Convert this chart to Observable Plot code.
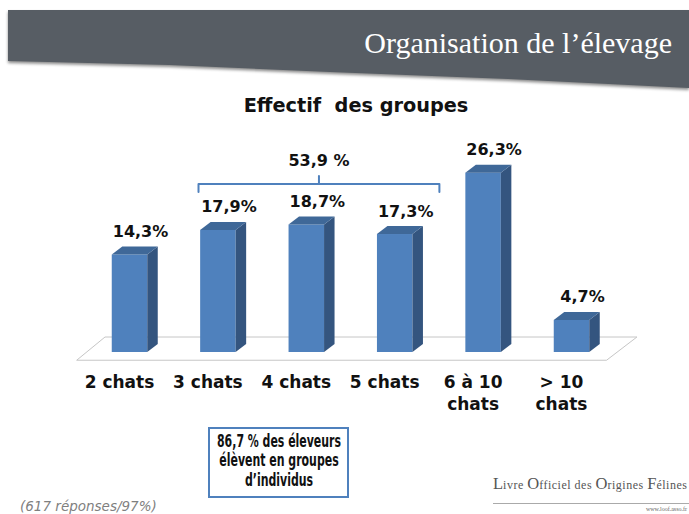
<!DOCTYPE html>
<html><head><meta charset="utf-8">
<script src="https://cdn.jsdelivr.net/npm/d3@7"></script>
<script src="https://cdn.jsdelivr.net/npm/@observablehq/plot@0.6"></script>
<style>
html,body{margin:0;padding:0;background:#fff;}
#page{position:relative;width:689px;height:514px;overflow:hidden;font-family:"DejaVu Sans",sans-serif;}
#chart{position:absolute;left:0;top:0;z-index:1;}
#bannerWrap{position:absolute;left:8px;top:10px;width:681px;height:82px;filter:drop-shadow(0 2px 1.5px rgba(0,0,0,0.45));z-index:2;}
#banner{width:100%;height:100%;background:#575d64;clip-path:polygon(0 0,100% 0,100% 78px,500px 69px,322px 62px,161px 55px,0 51px);}
#bannerTitle{position:absolute;right:17px;top:28px;font-family:"Liberation Serif",serif;font-size:30px;line-height:30px;color:#fff;white-space:pre;z-index:3;}
#title{position:absolute;left:356px;top:96px;transform:translateX(-50%);font-weight:bold;font-size:19.3px;line-height:19px;color:#111;white-space:pre;z-index:3;}
#box{position:absolute;left:208px;top:427px;width:137px;height:67px;border:2px solid #4f81bd;z-index:3;}
#boxText{position:absolute;left:278.5px;top:432px;font-family:"DejaVu Sans",sans-serif;font-stretch:condensed;font-weight:bold;font-size:17px;line-height:19.3px;color:#111;z-index:4;text-align:center;white-space:nowrap;transform-origin:0 0;}
#foot{position:absolute;left:20px;top:499.5px;font-style:italic;font-size:13.5px;line-height:13.5px;color:#7f7f7f;white-space:pre;z-index:3;}
#logo{position:absolute;left:493px;top:476px;font-family:"Liberation Serif",serif;font-size:12px;line-height:15px;color:#555;white-space:pre;letter-spacing:0.5px;z-index:3;}
#logo b{font-weight:normal;font-size:16.5px;letter-spacing:0;}
#logoLine{position:absolute;left:493px;top:503px;width:196px;height:1px;background:#aaa;z-index:3;}
#logoUrl{position:absolute;right:2px;top:506px;font-family:"Liberation Serif",serif;font-size:6px;line-height:6px;color:#666;z-index:3;}
</style>
</head><body>
<div id="page">
  <div id="bannerWrap"><div id="banner"></div></div>
  <div id="bannerTitle">Organisation de l’élevage</div>
  <div id="title">Effectif  des groupes</div>
  <div id="box"></div>
  <div id="boxText">86,7 % des éleveurs<br>élèvent en groupes<br>d’individus</div>
  <div id="foot">(617 réponses/97%)</div>
  <div id="logo"><b>L</b>ivre <b>O</b>fficiel des <b>O</b>rigines <b>F</b>élines</div>
  <div id="logoLine"></div>
  <div id="logoUrl">www.loof.asso.fr</div>
  <div id="chart"></div>
</div>
<script>
// ---- data ----
const categories = ["2 chats", "3 chats", "4 chats", "5 chats", "6 à 10\nchats", "> 10\nchats"];
const values = [14.3, 17.9, 18.7, 17.3, 26.3, 4.7];
const bracketCategories = ["3 chats", "5 chats"];
const bracketLabel = "53,9 %";

// ---- geometry helpers (scale-unit conversions) ----
const pxPerX = 88.4, pxPerY = 6.82;
const hw = 17.75 / pxPerX;          // half bar width (x units)
const ddx = 10.5 / pxPerX;          // 3D depth in x
const ddy = 8 / pxPerY;             // 3D depth in y

const data = categories.map((c, i) => ({cat: c, i, v: values[i]}));
const fmt = v => v.toFixed(1).replace(".", ",") + "%";

const sidePts = data.flatMap(d => [
  {cat: d.cat, x: d.i + hw, y1: 0, y2: d.v},
  {cat: d.cat, x: d.i + hw + ddx, y1: ddy, y2: d.v + ddy}
]);
const topPts = data.flatMap(d => [
  {cat: d.cat, y: d.v, x1: d.i - hw, x2: d.i + hw},
  {cat: d.cat, y: d.v + ddy, x1: d.i - hw + ddx, x2: d.i + hw + ddx}
]);
const floorPts = [
  {y: -8 / pxPerY, x1: -0.594, x2: 5.40},
  {y: 15 / pxPerY, x1: -0.277, x2: 5.74}
];

const bi0 = categories.indexOf(bracketCategories[0]);
const bi1 = categories.indexOf(bracketCategories[1]);
const groupMax = d3.max(values.slice(bi0, bi1 + 1));
const bx0 = bi0 - 0.225, bx1 = bi1 + 0.5, bxc = (bx0 + bx1) / 2;
const yMid = groupMax + 41 / pxPerY, yEnd = yMid - 8 / pxPerY, yTop = yMid + 8 / pxPerY;
const bracketPts = [
  {x: bx0, y: yEnd}, {x: bx0, y: yMid}, {x: bxc, y: yMid}, {x: bxc, y: yTop},
  {x: bxc, y: yMid}, {x: bx1, y: yMid}, {x: bx1, y: yEnd}
];

const textStyle = {fontFamily: "DejaVu Sans", fontWeight: "bold", fill: "#111"};

const chart = Plot.plot({
  width: 689, height: 514,
  marginTop: 0, marginRight: 0, marginBottom: 0, marginLeft: 0,
  style: {background: "none", overflow: "visible", fontFamily: "DejaVu Sans"},
  x: {type: "linear", domain: [-0.5, 5.5], range: [85.3, 615.7], axis: null},
  y: {type: "linear", domain: [0, 30], range: [352, 352 - 30 * pxPerY], axis: null},
  marks: [
    Plot.areaX(floorPts, {y: "y", x1: "x1", x2: "x2", fill: "#fff", stroke: "#c6c6c6", strokeWidth: 1}),
    Plot.rect(data, {x1: d => d.i - hw, x2: d => d.i + hw, y1: 0, y2: "v", fill: "#4f81bd"}),
    Plot.areaY(sidePts, {x: "x", y1: "y1", y2: "y2", z: "cat", fill: "#34557f"}),
    Plot.areaX(topPts, {y: "y", x1: "x1", x2: "x2", z: "cat", fill: "#3f6898"}),
    Plot.text(data, {x: d => d.i + ddx, y: d => d.v + ddy, text: d => fmt(d.v), dy: -10, lineAnchor: "bottom", fontSize: 16, ...textStyle}),
    Plot.text(data, {x: "i", y: 0, text: "cat", dx: -10.5, dy: 19.3, lineAnchor: "top", lineHeight: 1.3, fontSize: 17, ...textStyle}),
    Plot.line(bracketPts, {x: "x", y: "y", stroke: "#4f81bd", strokeWidth: 2, strokeLinejoin: "round", strokeLinecap: "round"}),
    Plot.text([bracketLabel], {x: () => bxc, y: () => yTop, text: d => d, dy: -10, lineAnchor: "bottom", fontSize: 16, ...textStyle})
  ]
});
document.getElementById("chart").appendChild(chart);

// fit the box text into the box width (narrow bold face in the reference)
const bt = document.getElementById("boxText");
const w = bt.getBoundingClientRect().width;
const s = 124 / w;
bt.style.transform = `scaleX(${s}) translateX(-50%)`;
</script>
</body></html>
